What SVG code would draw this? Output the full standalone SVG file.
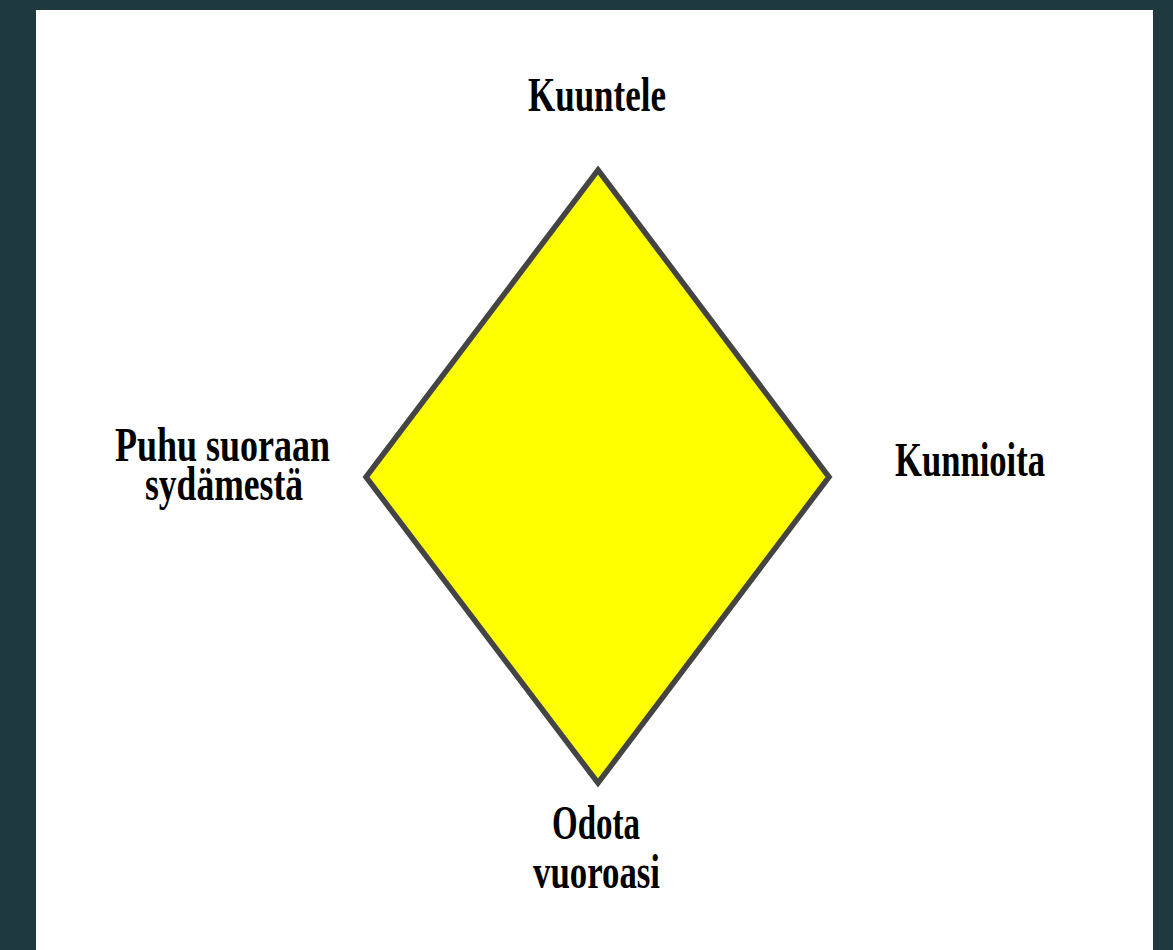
<svg xmlns="http://www.w3.org/2000/svg" width="1173" height="950" viewBox="0 0 1173 950">
<style>
.lbl{font-family:"Liberation Serif","Times New Roman",serif;font-weight:bold;font-size:48px;fill:#000;text-anchor:middle}
</style>
<rect x="0" y="0" width="1173" height="950" fill="#1f3a3e"/>
<rect x="36" y="10" width="1117" height="940" fill="#ffffff"/>
<g id="diamond">
<polygon points="598,170 829,477 598,783 366,477" fill="#ffff00" stroke="#444444" stroke-width="5.5" stroke-linejoin="miter"/>
</g>
<g id="top">
<text class="lbl" x="597" y="111" textLength="138" lengthAdjust="spacingAndGlyphs">Kuuntele</text>
</g>
<g id="left">
<text class="lbl" x="222.5" y="461" textLength="215" lengthAdjust="spacingAndGlyphs">Puhu suoraan</text>
<text class="lbl" x="224" y="500" textLength="158" lengthAdjust="spacingAndGlyphs">sydämestä</text>
</g>
<g id="right">
<text class="lbl" x="970" y="476" textLength="150" lengthAdjust="spacingAndGlyphs">Kunnioita</text>
</g>
<g id="bottom">
<text class="lbl" x="596" y="839" textLength="88" lengthAdjust="spacingAndGlyphs">Odota</text>
<text class="lbl" x="596.5" y="888" textLength="127" lengthAdjust="spacingAndGlyphs">vuoroasi</text>
</g>
</svg>
